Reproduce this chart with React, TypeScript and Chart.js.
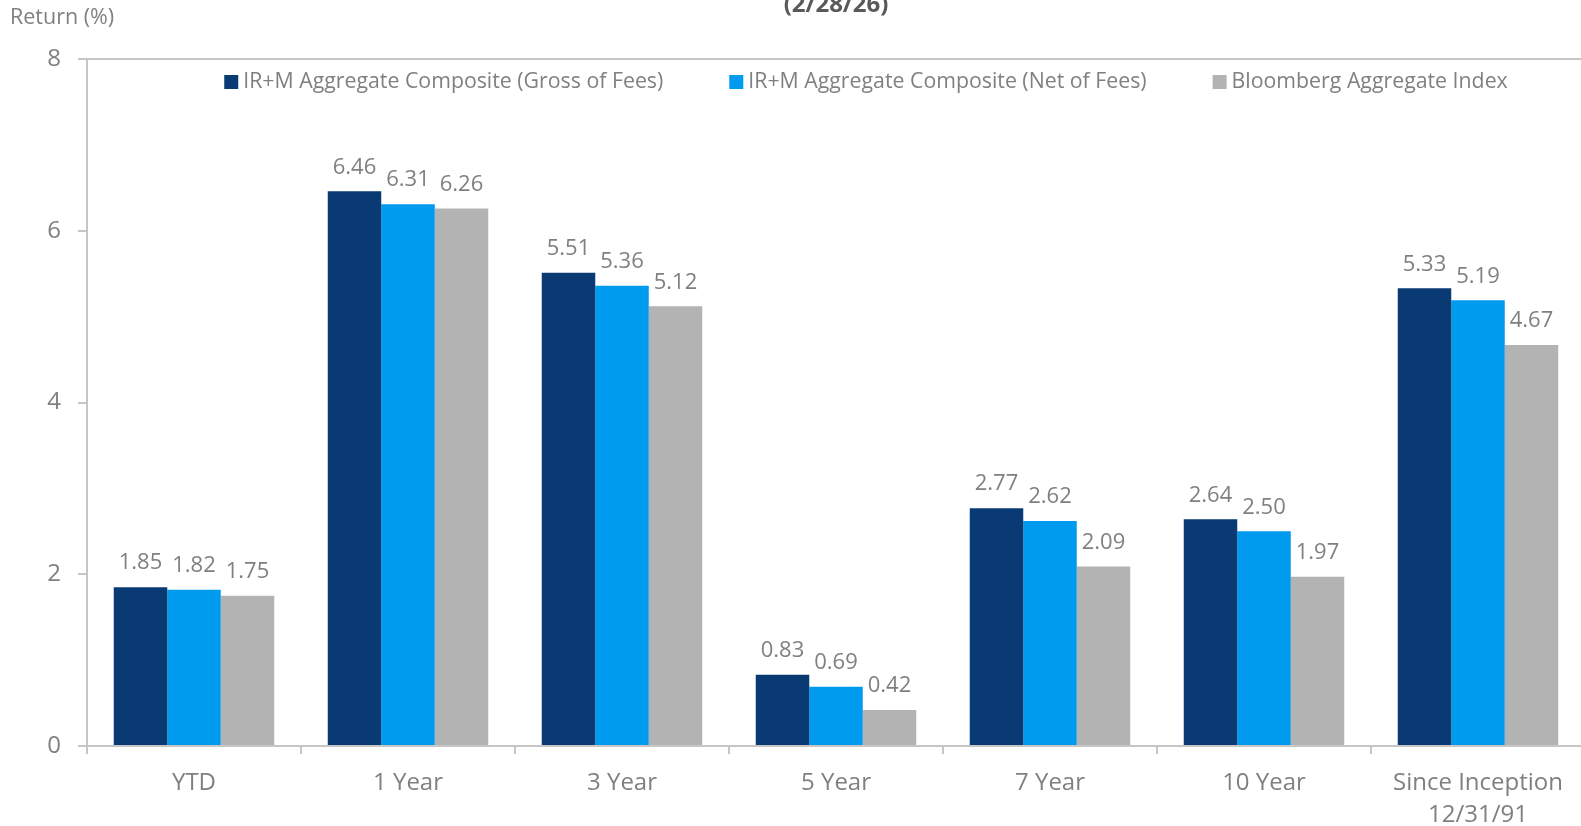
import React, { useEffect, useRef } from "react";
import { Chart, registerables } from "chart.js";

Chart.register(...registerables);

const categories: (string | string[])[] = ["YTD", "1 Year", "3 Year", "5 Year", "7 Year", "10 Year", ["Since Inception", "12/31/91"]];
const seriesLabels = [
  "IR+M Aggregate Composite (Gross of Fees)",
  "IR+M Aggregate Composite (Net of Fees)",
  "Bloomberg Aggregate Index",
];
const grossValues = [1.85, 6.46, 5.51, 0.83, 2.77, 2.64, 5.33];
const netValues = [1.82, 6.31, 5.36, 0.69, 2.62, 2.5, 5.19];
const indexValues = [1.75, 6.26, 5.12, 0.42, 2.09, 1.97, 4.67];
const seriesColors = ["#0A3A74", "#009BEF", "#B3B3B3"];
const yMin = 0;
const yMax = 8;
const yStep = 2;
const titleText = "(2/28/26)";
const yAxisTitle = "Return (%)";

const FONT = "'Open Sans', 'Noto Sans', sans-serif";
const TEXT = "#808080";
const AXIS = "#C6C6C6";

const overlayPlugin = {
  id: "overlay",
  afterDatasetsDraw(chart: any) {
    const { ctx } = chart;
    ctx.save();
    ctx.font = `22px ${FONT}`;
    ctx.fillStyle = TEXT;
    ctx.textAlign = "center";
    ctx.textBaseline = "middle";
    chart.data.datasets.forEach((ds: any, i: number) => {
      const meta = chart.getDatasetMeta(i);
      meta.data.forEach((el: any, j: number) => {
        const v = ds.data[j];
        ctx.fillText(Number(v).toFixed(2), el.x, el.y - 24);
      });
    });
    ctx.restore();
  },
  afterDraw(chart: any) {
    const { ctx, chartArea } = chart;
    ctx.save();
    // title (cut off at top)
    ctx.font = `bold 24px ${FONT}`;
    ctx.fillStyle = "#595959";
    ctx.textAlign = "center";
    ctx.textBaseline = "alphabetic";
    ctx.fillText(titleText, (chartArea.left + chartArea.right) / 2, 12);
    // y axis title
    ctx.font = `21.5px ${FONT}`;
    ctx.fillStyle = TEXT;
    ctx.textAlign = "left";
    ctx.textBaseline = "middle";
    ctx.fillText(yAxisTitle, 10, 18);
    // legend
    ctx.font = `21.3px ${FONT}`;
    const box = 14;
    const gapBox = 5;
    const gapItem = 66;
    const widths = chart.data.datasets.map((ds: any) => ctx.measureText(ds.label).width);
    const total = widths.reduce((a: number, w: number) => a + box + gapBox + w, 0) + gapItem * (widths.length - 1);
    let x = 866 - total / 2;
    const cy = 82;
    chart.data.datasets.forEach((ds: any, i: number) => {
      ctx.fillStyle = ds.backgroundColor;
      ctx.fillRect(x, cy - box / 2, box, box);
      ctx.fillStyle = TEXT;
      ctx.fillText(ds.label, x + box + gapBox, cy);
      x += box + gapBox + widths[i] + gapItem;
    });
    ctx.restore();
  },
};

export default function App() {
  const ref = useRef<HTMLCanvasElement | null>(null);
  useEffect(() => {
    if (!ref.current) return;
    const chart = new Chart(ref.current, {
      type: "bar",
      data: {
        labels: categories as any,
        datasets: [grossValues, netValues, indexValues].map((d, i) => ({
          label: seriesLabels[i],
          data: d,
          backgroundColor: seriesColors[i],
          borderWidth: 0,
          categoryPercentage: 0.75,
          barPercentage: 1.0,
        })),
      },
      options: {
        responsive: false,
        animation: false,
        devicePixelRatio: 1,
        layout: { padding: { top: 59, left: 0, right: 15, bottom: 14 } },
        plugins: {
          legend: { display: false },
          title: { display: false },
          tooltip: { enabled: false },
        },
        scales: {
          x: {
            ticks: { color: TEXT, font: { size: 24, family: FONT, lineHeight: 1.35 }, padding: 13 },
            grid: { drawOnChartArea: false, tickLength: 8, color: AXIS, lineWidth: 2, offset: true },
            border: { color: AXIS, width: 2 },
            afterFit: (s: any) => {
              s.height = 90;
            },
          },
          y: {
            min: yMin,
            max: yMax,
            ticks: { stepSize: yStep, color: TEXT, font: { size: 24, family: FONT }, padding: 17 },
            grid: {
              drawOnChartArea: true,
              color: (c: any) => (c.tick && c.tick.value === yMax ? AXIS : "rgba(0,0,0,0)"),
              tickColor: AXIS,
              tickLength: 9,
              lineWidth: 2,
            },
            border: { color: AXIS, width: 2 },
            afterFit: (s: any) => {
              s.width = 87;
            },
          },
        },
      },
      plugins: [overlayPlugin],
    });
    return () => chart.destroy();
  }, []);
  return (
    <div style={{ position: "fixed", left: 0, top: 0, width: 1581, height: 826, overflow: "hidden", background: "#fff" }}>
      <canvas ref={ref} width={1600} height={850} style={{ display: "block", width: 1600, height: 850 }} />
    </div>
  );
}
